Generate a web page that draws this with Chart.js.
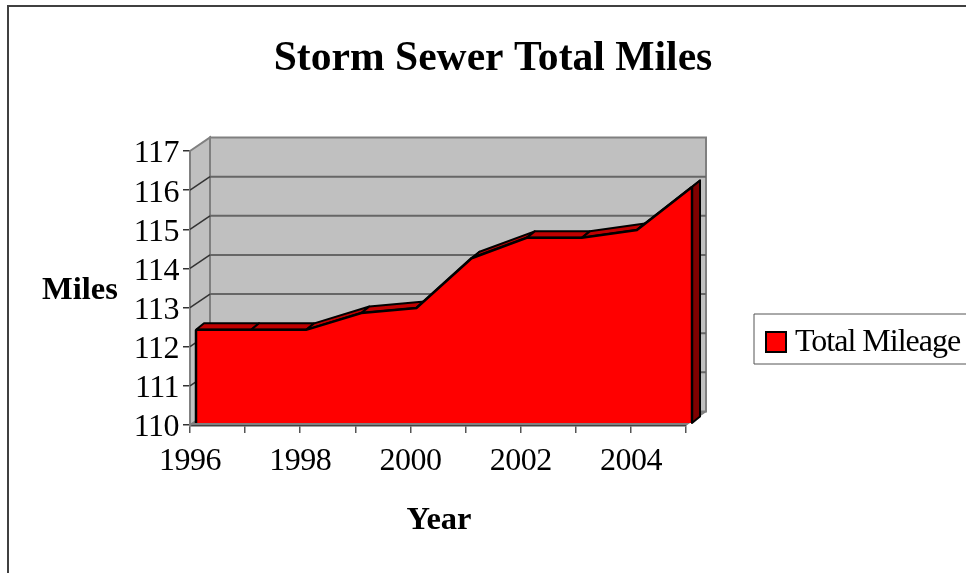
<!DOCTYPE html>
<html>
<head>
<meta charset="utf-8">
<script src="https://cdn.jsdelivr.net/npm/chart.js@4/dist/chart.umd.min.js"></script>
<style>
  html, body { margin: 0; background: #fff; overflow: hidden; }
  canvas { display: block; }
</style>
</head>
<body>
<canvas id="myChart" width="966" height="573"></canvas>
<script>
const years = ['1996', '1997', '1998', '1999', '2000', '2001', '2002', '2003', '2004', '2005'];
const totalMileage = [112.38, 112.38, 112.38, 112.81, 112.94, 114.21, 114.73, 114.73, 114.93, 116.03];
const yMin = 110;
const yMax = 117;

const chartTitle = 'Storm Sewer Total Miles';
const xTitle = 'Year';
const yTitle = 'Miles';
const seriesName = 'Total Mileage';

const serif = '"Liberation Serif", "Times New Roman", serif';

// fake 3d offsets, px
const wall = { x: 20, y: -13.5 };
const front = { x: 6, y: -2 };
const depth = { x: 8, y: -6.5 };

function poly(ctx, pts, fill, stroke, width) {
  ctx.beginPath();
  pts.forEach((p, i) => i ? ctx.lineTo(p[0], p[1]) : ctx.moveTo(p[0], p[1]));
  ctx.closePath();
  if (fill) { ctx.fillStyle = fill; ctx.fill(); }
  if (stroke) { ctx.strokeStyle = stroke; ctx.lineWidth = width; ctx.stroke(); }
}

function seg(ctx, x1, y1, x2, y2, color, width) {
  ctx.beginPath();
  ctx.moveTo(x1, y1);
  ctx.lineTo(x2, y2);
  ctx.strokeStyle = color;
  ctx.lineWidth = width;
  ctx.stroke();
}

const walls = {
  id: 'walls',
  beforeDraw(chart) {
    chart.ctx.letterSpacing = '-0.5px';
  },
  beforeDatasetsDraw(chart) {
    const { ctx, chartArea: a, scales } = chart;
    const y = scales.y;
    ctx.save();
    // back wall, left wall, floor
    poly(ctx, [[a.left + wall.x, a.top + wall.y], [a.right + wall.x, a.top + wall.y],
      [a.right + wall.x, a.bottom + wall.y], [a.left + wall.x, a.bottom + wall.y]], '#c0c0c0', '#808080', 2);
    poly(ctx, [[a.left, a.top], [a.left + wall.x, a.top + wall.y],
      [a.left + wall.x, a.bottom + wall.y], [a.left, a.bottom]], '#c0c0c0', '#808080', 2);
    poly(ctx, [[a.left, a.bottom], [a.right, a.bottom],
      [a.right + wall.x, a.bottom + wall.y], [a.left + wall.x, a.bottom + wall.y]], '#808080', null);
    y.ticks.forEach(t => {
      const py = y.getPixelForValue(t.value);
      if (t.value > yMin && t.value < yMax) {
        seg(ctx, a.left + wall.x, py + wall.y, a.right + wall.x, py + wall.y, '#666666', 2);
        seg(ctx, a.left, py, a.left + wall.x, py + wall.y, '#333333', 1.5);
      }
    });
    seg(ctx, a.right, a.bottom, a.right + wall.x, a.bottom + wall.y, '#808080', 1.5);
    ctx.restore();

    // top faces and end cap of the area
    const x = scales.x;
    const px = i => x.getPixelForValue(i) + front.x;
    const py = v => y.getPixelForValue(v) + front.y;
    ctx.save();
    ctx.lineJoin = 'round';
    for (let i = 0; i < totalMileage.length - 1; i++) {
      const x1 = px(i), y1 = py(totalMileage[i]), x2 = px(i + 1), y2 = py(totalMileage[i + 1]);
      poly(ctx, [[x1, y1], [x2, y2], [x2 + depth.x, y2 + depth.y], [x1 + depth.x, y1 + depth.y]], '#c00000', '#000', 2);
    }
    const last = totalMileage.length - 1;
    const xe = px(last), ye = py(totalMileage[last]), be = py(yMin);
    poly(ctx, [[xe, ye], [xe + depth.x, ye + depth.y], [xe + depth.x, be + depth.y], [xe, be]], '#800000', '#000', 2);
    ctx.restore();

    // the filler draws inside the dataset hooks, so shift the whole dataset pass
    ctx.save();
    ctx.translate(front.x, front.y);
  },
  afterDatasetsDraw(chart) {
    const { ctx, scales: { x, y } } = chart;
    ctx.restore();
    const be = y.getPixelForValue(yMin) + front.y;
    const last = totalMileage.length - 1;
    const xs = x.getPixelForValue(0) + front.x;
    const xe = x.getPixelForValue(last) + front.x;
    ctx.save();
    seg(ctx, xs, y.getPixelForValue(totalMileage[0]) + front.y, xs, be, '#000', 2.5);
    seg(ctx, xe, y.getPixelForValue(totalMileage[last]) + front.y, xe, be, '#000', 2.5);
    ctx.restore();
  },
  afterDraw(chart) {
    const { ctx } = chart;
    ctx.save();
    // frame
    seg(ctx, 7, 6, 966, 6, '#404040', 2);
    seg(ctx, 8, 6, 8, 573, '#404040', 2);

    ctx.fillStyle = '#000';
    ctx.textBaseline = 'alphabetic';
    ctx.textAlign = 'center';
    ctx.letterSpacing = '0px';
    ctx.font = 'bold 41.6px ' + serif;
    ctx.fillText(chartTitle, 493, 70);
    ctx.font = 'bold 32.5px ' + serif;
    ctx.fillText(yTitle, 80, 299);
    ctx.fillText(xTitle, 439, 529);

    // legend
    ctx.fillStyle = '#fff';
    ctx.fillRect(754, 314, 212, 50);
    seg(ctx, 754, 314, 966, 314, '#555555', 1);
    seg(ctx, 754, 364, 966, 364, '#555555', 1);
    seg(ctx, 754, 314, 754, 364, '#555555', 1);
    poly(ctx, [[766, 332], [786, 332], [786, 352], [766, 352]], '#ff0000', '#000', 2);
    ctx.fillStyle = '#000';
    ctx.textAlign = 'left';
    ctx.letterSpacing = '-1px';
    ctx.font = '32px ' + serif;
    ctx.fillText(seriesName, 795, 351);
    ctx.restore();
  }
};

new Chart(document.getElementById('myChart'), {
  type: 'line',
  data: {
    labels: years,
    datasets: [{
      label: seriesName,
      data: totalMileage,
      fill: 'origin',
      backgroundColor: '#ff0000',
      borderColor: '#000000',
      borderWidth: 2.5,
      pointRadius: 0,
      tension: 0,
      clip: false
    }]
  },
  plugins: [walls],
  options: {
    responsive: false,
    animation: false,
    layout: { padding: { left: 0, right: 280, top: 151, bottom: 0 } },
    plugins: { legend: { display: false }, title: { display: false }, tooltip: { enabled: false } },
    scales: {
      x: {
        offset: false,
        afterFit: s => { s.height = 148; },
        grid: { drawOnChartArea: false, color: '#555555', lineWidth: 1.5, tickLength: 8 },
        border: { color: '#444444', width: 2.5 },
        ticks: {
          autoSkip: false, maxRotation: 0, padding: 9,
          color: '#000', font: { family: serif, size: 32 },
          callback: (v, i) => i % 2 === 0 ? years[i] : ''
        }
      },
      y: {
        min: yMin,
        max: yMax,
        afterFit: s => { s.width = 190; },
        grid: { drawOnChartArea: false, color: '#333333', lineWidth: 1.5, tickLength: 7 },
        border: { color: '#444444', width: 2 },
        ticks: { stepSize: 1, autoSkip: false, padding: 4, labelOffset: 3, color: '#000', font: { family: serif, size: 32 } }
      }
    }
  }
});
</script>
</body>
</html>
